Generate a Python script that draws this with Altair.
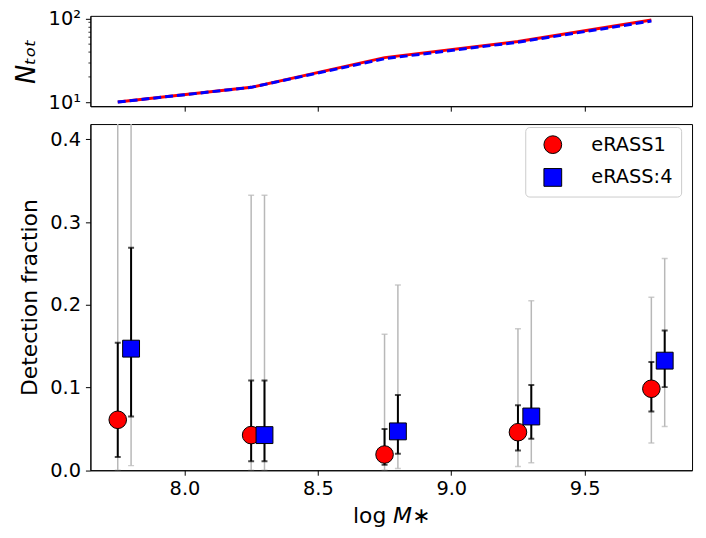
import altair as alt
import pandas as pd

# ---------------- data ----------------
series_names = ["eRASS1", "eRASS:4"]
x_e1 = [7.75, 8.25, 8.75, 9.25, 9.75]
x_e4 = [7.80, 8.30, 8.80, 9.30, 9.80]

ntot_e1 = [10, 15, 34, 53, 96]
ntot_e4 = [10, 15, 33, 52, 93]

frac_e1 = [0.061, 0.0425, 0.019, 0.046, 0.0985]
lo1_e1 = [0.016, 0.011, 0.0065, 0.024, 0.071]
hi1_e1 = [0.154, 0.1085, 0.050, 0.0785, 0.131]
lo2_e1 = [0.0, 0.0, 0.0, 0.0044, 0.033]
hi2_e1 = [0.50, 0.3325, 0.1645, 0.171, 0.209]

frac_e4 = [0.147, 0.0425, 0.047, 0.065, 0.1325]
lo1_e4 = [0.065, 0.011, 0.020, 0.038, 0.1005]
hi1_e4 = [0.269, 0.1085, 0.091, 0.103, 0.169]
lo2_e4 = [0.0056, 0.0, 0.002, 0.009, 0.053]
hi2_e4 = [0.50, 0.3325, 0.224, 0.205, 0.256]

x_ticks = [8.0, 8.5, 9.0, 9.5]
y_ticks = [0.0, 0.1, 0.2, 0.3, 0.4]
n_ticks = [10, 20, 30, 40, 50, 60, 70, 80, 90, 100]

# ---------------- tables ----------------
def frame(name, xs, fr, l1, h1, l2, h2):
    return pd.DataFrame({"series": name, "x": xs, "frac": fr,
                         "lo1": l1, "hi1": h1, "lo2": l2, "hi2": h2})

d1 = frame("eRASS1", x_e1, frac_e1, lo1_e1, hi1_e1, lo2_e1, hi2_e1)
d4 = frame("eRASS:4", x_e4, frac_e4, lo1_e4, hi1_e4, lo2_e4, hi2_e4)
dall = pd.concat([d1, d4], ignore_index=True)

n1 = pd.DataFrame({"x": x_e1, "n": ntot_e1})
n4 = pd.DataFrame({"x": x_e1, "n": ntot_e4})

FONT = "DejaVu Sans"
W = 606
TOP_H = 91

xscale = alt.Scale(domain=[7.6475, 9.9025], nice=False, zero=False)
yscale = alt.Scale(domain=[0, 0.4185], nice=False, zero=False)
nscale = alt.Scale(type="log", domain=[8.93, 107.4], nice=False)

# ---------------- top panel ----------------
top_x = alt.X("x:Q", scale=xscale,
              axis=alt.Axis(values=x_ticks, labels=False, title=None, tickSize=5))
top_y = alt.Y("n:Q", scale=nscale,
              axis=alt.Axis(values=n_ticks,
                            labelExpr="datum.value == 10 ? '10¹' : (datum.value == 100 ? '10²' : '')",
                            tickSize={"condition": {"test": "datum.value == 10 || datum.value == 100", "value": 5}, "value": 2.5},
                            tickWidth={"condition": {"test": "datum.value == 10 || datum.value == 100", "value": 1}, "value": 0.8},
                            labelFontSize=19.5, labelPadding=5,
                            title="Nₜₒₜ", titleFontSize=26, titleFontStyle="italic",
                            titleFontWeight="normal",
                            titleAngle=-90, titleX=-56, titleY=TOP_H / 2,
                            titleAlign="center", titleBaseline="alphabetic"))

red_line = alt.Chart(n1).mark_line(color="red", strokeWidth=3).encode(x=top_x, y=top_y)
blue_line = alt.Chart(n4).mark_line(color="blue", strokeWidth=3, strokeDash=[8, 4]).encode(x=top_x, y=top_y)
top = alt.layer(red_line, blue_line).properties(width=W, height=TOP_H)

# ---------------- bottom panel ----------------
bx = alt.X("x:Q", scale=xscale,
           axis=alt.Axis(values=x_ticks, format=".1f", tickSize=5, labelFontSize=19.5,
                         labelPadding=4, title="log 𝘔∗", titleFontSize=22,
                         titleFontWeight="normal", titlePadding=8))
yaxis = alt.Axis(values=y_ticks, format=".1f", tickSize=5, labelFontSize=19.5,
                 labelPadding=5, title="Detection fraction", titleFontSize=22,
                 titleFontWeight="normal", titleAngle=-90, titleX=-54, titleY=174.35,
                 titleAlign="center", titleBaseline="alphabetic")

gray = alt.Chart(dall).mark_errorbar(
    color="#b8b8b8", thickness=1.5, ticks={"size": 6}, clip=True
).encode(x=bx, y=alt.Y("lo2:Q", scale=yscale, axis=yaxis), y2="hi2:Q")

def black_bars(d):
    return alt.Chart(d).mark_errorbar(
        color="black", thickness=2, ticks={"size": 6}, clip=True
    ).encode(x=bx, y=alt.Y("lo1:Q", scale=yscale, axis=yaxis), y2="hi1:Q")

color_scale = alt.Scale(domain=series_names, range=["red", "blue"])
shape_scale = alt.Scale(domain=series_names, range=["circle", "square"])
legend = alt.Legend(title=None, orient="none", legendX=438, legendY=TOP_H + 11 + 10,
                    padding=8, cornerRadius=4, strokeColor="#cccccc",
                    fillColor="white", symbolOffset=10, labelOffset=29,
                    rowPadding=10, labelFontSize=19.5, labelFont=FONT,
                    symbolSize=320, symbolStrokeColor="black",
                    symbolStrokeWidth=1, symbolType="circle")

def points(d, size):
    return alt.Chart(d).mark_point(filled=True, opacity=1, stroke="black",
                                   strokeWidth=1, size=size).encode(
        x=bx, y=alt.Y("frac:Q", scale=yscale, axis=yaxis),
        color=alt.Color("series:N", scale=color_scale, legend=legend),
        shape=alt.Shape("series:N", scale=shape_scale, legend=legend),
    )

bottom = alt.layer(gray, black_bars(d1), points(d1, 314),
                   black_bars(d4), points(d4, 289)).properties(width=W, height=348.7)

chart = alt.vconcat(top, bottom, spacing=11).properties(
    padding={"left": 5, "top": -2, "right": 5, "bottom": 5}
).configure_axis(
    grid=False, domainColor="black", tickColor="black", labelColor="black",
    titleColor="black", labelFont=FONT, titleFont=FONT, domainWidth=1,
).configure_view(stroke="black", strokeWidth=1)

chart.save("out.html", embed_options={"renderer": "svg", "actions": False})
